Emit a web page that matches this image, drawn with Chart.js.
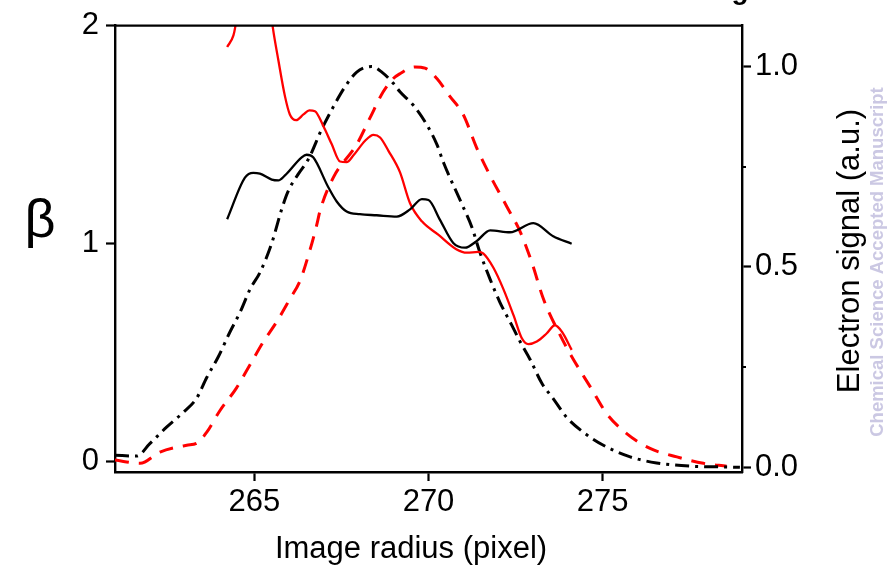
<!DOCTYPE html>
<html>
<head>
<meta charset="utf-8">
<script src="https://cdn.jsdelivr.net/npm/chart.js@4/dist/chart.umd.min.js"></script>
<style>
  html, body { margin: 0; padding: 0; background: #fff; }
  canvas { display: block; }
</style>
</head>
<body>
<canvas id="c" width="888" height="566"></canvas>
<script>
// ---- data ----
const xTicks = [265, 270, 275];
const betaTicks = [0, 1, 2];
const signalTicks = [0, 0.5, 1.0];
const signalMinorTicks = [0.25, 0.75];

// beta, black solid (left axis)
const betaBlackX = [264.22, 264.73, 264.97, 265.16, 265.50, 265.69, 265.88, 266.36, 266.50, 266.69, 267.12, 267.37, 267.65, 268.03, 268.51, 269.09, 269.47, 269.81, 270.00, 270.33, 270.71, 271.05, 271.38, 271.77, 272.34, 273.01, 273.58, 274.11];
const betaBlackY = [1.111, 1.302, 1.324, 1.320, 1.293, 1.289, 1.312, 1.395, 1.407, 1.395, 1.259, 1.191, 1.146, 1.134, 1.129, 1.123, 1.156, 1.203, 1.199, 1.108, 1.002, 0.980, 1.010, 1.060, 1.051, 1.093, 1.033, 0.998];

// beta, red solid (left axis) - goes above the top of the frame near 265
const betaRedX = [264.22, 264.40, 264.45, 264.80, 265.20, 265.53, 265.69, 265.88, 266.02, 266.20, 266.41, 266.58, 266.74, 266.98, 267.22, 267.46, 267.65, 267.84, 268.18, 268.42, 268.61, 268.85, 269.18, 269.47, 269.81, 270.28, 270.81, 271.10, 271.43, 271.57, 271.86, 272.15, 272.44, 272.68, 272.87, 273.11, 273.39, 273.63, 273.83, 274.11];
const betaRedY = [1.902, 1.955, 1.992, 2.400, 2.400, 1.992, 1.841, 1.675, 1.592, 1.566, 1.592, 1.611, 1.607, 1.539, 1.456, 1.376, 1.373, 1.403, 1.471, 1.498, 1.486, 1.425, 1.327, 1.184, 1.101, 1.040, 0.972, 0.957, 0.961, 0.954, 0.889, 0.790, 0.670, 0.564, 0.537, 0.549, 0.586, 0.624, 0.594, 0.511];

// electron signal, black dash-dot (right axis)
const signalBlackX = [261.00, 261.62, 262.00, 262.48, 262.96, 263.35, 263.63, 263.97, 264.30, 264.59, 264.88, 265.16, 265.50, 265.79, 265.98, 266.26, 266.55, 266.93, 267.27, 267.60, 267.94, 268.37, 268.66, 268.99, 269.18, 269.56, 269.95, 270.24, 270.43, 270.95, 271.24, 271.48, 271.77, 272.05, 272.39, 272.63, 272.92, 273.25, 273.59, 273.97, 274.45, 275.02, 275.79, 276.55, 277.51, 278.56, 278.94];
const signalBlackY = [0.031, 0.029, 0.060, 0.101, 0.138, 0.174, 0.224, 0.277, 0.338, 0.387, 0.445, 0.486, 0.559, 0.645, 0.690, 0.731, 0.768, 0.842, 0.899, 0.948, 0.985, 0.999, 0.985, 0.957, 0.936, 0.903, 0.854, 0.805, 0.760, 0.658, 0.600, 0.535, 0.469, 0.412, 0.355, 0.314, 0.269, 0.211, 0.171, 0.125, 0.088, 0.056, 0.027, 0.012, 0.004, 0.002, 0.001];

// electron signal, red dashed (right axis)
const signalRedX = [261.00, 261.72, 262.29, 263.06, 263.35, 263.63, 264.01, 264.49, 264.88, 265.26, 265.64, 266.02, 266.31, 266.60, 266.79, 266.89, 267.27, 267.94, 268.32, 268.70, 268.99, 269.18, 269.61, 269.90, 270.24, 270.62, 271.00, 271.38, 271.77, 272.25, 272.63, 272.97, 273.30, 273.78, 274.11, 274.69, 275.12, 275.69, 276.36, 277.13, 277.89, 278.56];
const signalRedY = [0.019, 0.011, 0.039, 0.056, 0.061, 0.088, 0.142, 0.199, 0.257, 0.314, 0.363, 0.420, 0.465, 0.543, 0.604, 0.641, 0.723, 0.805, 0.871, 0.936, 0.969, 0.981, 0.998, 0.995, 0.969, 0.924, 0.879, 0.797, 0.727, 0.650, 0.588, 0.510, 0.420, 0.330, 0.277, 0.195, 0.134, 0.085, 0.048, 0.027, 0.011, 0.004];

const xTitle = 'Image radius (pixel)';
const yTitle = 'β';
const y2Title = 'Electron signal (a.u.)';
const watermark = 'Chemical Science Accepted Manuscript';
const topFragment = 'g';

// ---- helpers ----
const pts = (xs, ys) => xs.map((x, i) => ({ x: x, y: ys[i] }));
const FONT = "'Liberation Sans', Arial, Helvetica, sans-serif";

const decor = {
  id: 'decor',
  afterDraw(chart) {
    const ctx = chart.ctx;
    const a = chart.chartArea;
    const y2 = chart.scales.y2;
    ctx.save();
    // top frame line
    ctx.strokeStyle = '#000';
    ctx.lineWidth = 2.4;
    ctx.beginPath();
    ctx.moveTo(a.left - 1, a.top);
    ctx.lineTo(a.right + 1, a.top);
    ctx.stroke();
    // minor ticks on right axis
    ctx.lineWidth = 2;
    signalMinorTicks.forEach(v => {
      const py = Math.round(y2.getPixelForValue(v));
      ctx.beginPath();
      ctx.moveTo(a.right, py);
      ctx.lineTo(a.right + 4, py);
      ctx.stroke();
    });
    ctx.fillStyle = '#000';
    // x title
    ctx.font = '31px ' + FONT;
    ctx.textAlign = 'center';
    ctx.textBaseline = 'alphabetic';
    ctx.fillText(xTitle, 411, 558);
    // beta title
    ctx.font = '54px ' + FONT;
    ctx.textBaseline = 'middle';
    ctx.fillText(yTitle, 40, 222);
    // right title
    ctx.save();
    ctx.translate(859, 251);
    ctx.rotate(-Math.PI / 2);
    ctx.font = '31px ' + FONT;
    ctx.textAlign = 'center';
    ctx.textBaseline = 'alphabetic';
    ctx.fillText(y2Title, 0, 0);
    ctx.restore();
    // watermark
    ctx.save();
    ctx.translate(883, 262);
    ctx.rotate(-Math.PI / 2);
    ctx.font = 'bold 18.5px ' + FONT;
    ctx.fillStyle = '#cbc8e3';
    ctx.textAlign = 'center';
    ctx.textBaseline = 'alphabetic';
    ctx.fillText(watermark, 0, 0);
    ctx.restore();
    // cropped fragment of text at the top
    ctx.font = 'bold 28px ' + FONT;
    ctx.textAlign = 'center';
    ctx.textBaseline = 'alphabetic';
    ctx.fillText(topFragment, 740, -1);
    ctx.restore();
  }
};

const axisCommon = {
  grid: { drawOnChartArea: false, tickLength: 9, tickWidth: 2.2, tickColor: '#000' },
  border: { color: '#000', width: 2.4 }
};

new Chart(document.getElementById('c'), {
  type: 'line',
  data: {
    datasets: [
      { data: pts(betaBlackX, betaBlackY), yAxisID: 'y', borderColor: '#000', borderWidth: 2.3 },
      { data: pts(betaRedX, betaRedY), yAxisID: 'y', borderColor: '#ff0000', borderWidth: 2.3 },
      { data: pts(signalBlackX, signalBlackY), yAxisID: 'y2', borderColor: '#000', borderWidth: 3, borderDash: [14, 6, 3, 6] },
      { data: pts(signalRedX, signalRedY), yAxisID: 'y2', borderColor: '#ff0000', borderWidth: 3, borderDash: [14, 10] }
    ]
  },
  options: {
    responsive: false,
    animation: false,
    events: [],
    layout: { padding: { top: 20, left: 0, right: 0, bottom: 0 } },
    elements: {
      point: { radius: 0 },
      line: { cubicInterpolationMode: 'monotone', fill: false }
    },
    plugins: { legend: { display: false }, tooltip: { enabled: false } },
    scales: {
      x: Object.assign({}, axisCommon, {
        type: 'linear', position: 'bottom', min: 261, max: 279,
        afterBuildTicks: s => { s.ticks = xTicks.map(v => ({ value: v })); },
        afterFit: s => { s.height = 94; },
        ticks: { color: '#000', font: { size: 31, family: FONT }, padding: 3, maxRotation: 0, autoSkip: false }
      }),
      y: Object.assign({}, axisCommon, {
        type: 'linear', position: 'left', min: -0.05, max: 2,
        afterBuildTicks: s => { s.ticks = betaTicks.map(v => ({ value: v })); },
        afterFit: s => { s.width = 115; },
        ticks: { color: '#000', font: { size: 31, family: FONT }, padding: 7, autoSkip: false }
      }),
      y2: Object.assign({}, axisCommon, {
        type: 'linear', position: 'right', min: -0.0106, max: 1.1008,
        afterBuildTicks: s => { s.ticks = signalTicks.map(v => ({ value: v })); },
        afterFit: s => { s.width = 146; },
        ticks: { color: '#000', font: { size: 31, family: FONT }, padding: 4, autoSkip: false,
                 callback: v => Number(v).toFixed(1) }
      })
    }
  },
  plugins: [decor]
});
</script>
</body>
</html>
